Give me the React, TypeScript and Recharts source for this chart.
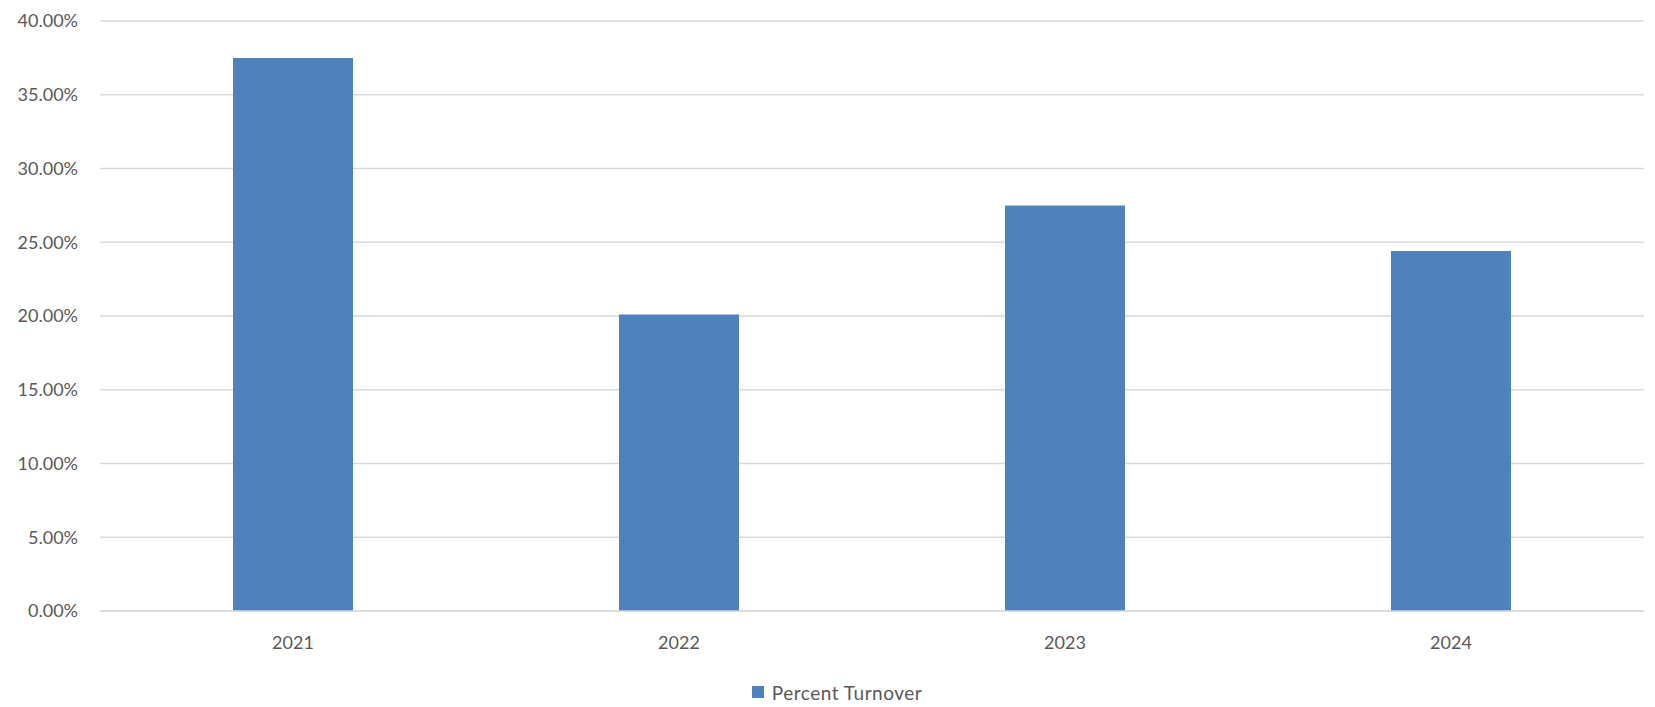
import {
  Bar,
  BarChart,
  CartesianGrid,
  Legend,
  XAxis,
  YAxis,
} from "recharts";

const years = ["2021", "2022", "2023", "2024"];
const turnover = [37.5, 20.1, 27.5, 24.4];
const yTicks = [0, 5, 10, 15, 20, 25, 30, 35, 40];

const BLUE = "#4f81bd";
const TEXT = "#595959";
const GRID = "#d9d9d9";
const FONT = "Lato, 'Open Sans', sans-serif";

const rows = years.map((year, i) => ({ year, turnover: turnover[i] }));

function TurnoverLegend() {
  return (
    <div
      style={{
        display: "flex",
        justifyContent: "center",
        alignItems: "center",
        gap: 8,
        paddingLeft: 30,
        fontFamily: FONT,
        fontSize: 19,
        letterSpacing: 0.5,
        color: TEXT,
        height: 30,
      }}
    >
      <span style={{ width: 12, height: 12, background: BLUE, display: "inline-block" }} />
      <span>Percent Turnover</span>
    </div>
  );
}

export default function App() {
  return (
    <div style={{ width: 1655, height: 707, background: "#fff" }}>
      <style>{`body{margin:0}`}</style>
      <BarChart
        width={1655}
        height={707}
        data={rows}
        margin={{ top: 21, right: 11, left: 0, bottom: 0 }}
      >
        <CartesianGrid vertical={false} stroke={GRID} strokeWidth={1.5} />
        <XAxis
          dataKey="year"
          axisLine={{ stroke: GRID, strokeWidth: 1.5 }}
          tickLine={false}
          tickMargin={19}
          height={66}
          tick={{ fill: TEXT, fontSize: 18, fontFamily: FONT }}
        />
        <YAxis
          domain={[0, 40]}
          ticks={yTicks}
          width={100}
          axisLine={false}
          tickLine={false}
          tickMargin={16}
          tickFormatter={(v: number) => `${v.toFixed(2)}%`}
          tick={{ fill: TEXT, fontSize: 18, fontFamily: FONT }}
        />
        <Legend verticalAlign="bottom" height={30} content={<TurnoverLegend />} />
        <Bar dataKey="turnover" fill={BLUE} barSize={120} isAnimationActive={false} />
      </BarChart>
    </div>
  );
}
